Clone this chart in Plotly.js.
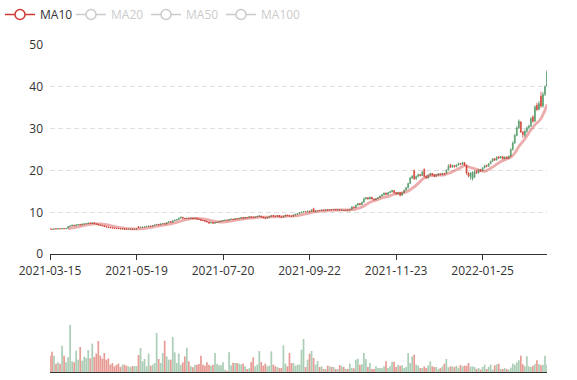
<!DOCTYPE html>
<html>
<head>
<meta charset="utf-8">
<script src="https://cdn.plot.ly/plotly-3.0.1.min.js"></script>
<style>html,body{margin:0;padding:0;background:#fff;}#chart{width:577px;height:380px;}</style>
</head>
<body>
<div id="chart"></div>
<script>
// Tick labels of the category (trading-day) axis and their category positions
const tickLabels = ['2021-03-15', '2021-05-19', '2021-07-20', '2021-09-22', '2021-11-23', '2022-01-25'];
const tickIndex = [0, 43, 86, 129, 172, 215];

// Daily candles
const open = [6.10,6.00,5.95,6.08,6.02,6.10,6.05,6.15,6.05,6.20,6.60,6.75,6.95,6.80,7.00,7.12,7.00,7.20,7.25,7.30,
7.45,7.35,7.50,7.30,7.20,7.00,6.90,6.80,6.60,6.50,6.40,6.30,6.25,6.18,6.15,6.10,6.05,6.10,6.00,5.95,
6.00,6.05,5.95,6.00,6.60,6.35,6.45,6.50,6.55,6.65,6.75,6.65,6.85,7.00,7.15,7.00,7.25,7.35,7.20,7.55,
7.80,7.65,8.00,8.15,8.30,8.60,8.85,8.60,8.50,8.60,8.55,8.65,8.50,8.60,8.40,8.30,8.10,8.05,7.85,7.70,
7.45,7.60,7.40,7.55,7.65,7.80,7.95,8.05,8.15,8.10,8.30,8.40,8.30,8.50,8.45,8.60,8.75,8.60,8.80,8.70,
8.95,8.85,8.80,8.90,9.05,9.10,8.90,8.70,8.60,8.80,9.00,9.25,9.10,9.00,9.25,8.95,8.85,9.05,9.35,9.20,
9.10,9.05,9.35,9.55,9.70,9.90,10.05,10.20,10.10,10.30,10.15,10.90,10.20,10.35,10.45,10.40,10.55,10.50,10.60,10.55,
10.65,10.60,10.70,10.55,10.60,10.50,10.55,10.45,10.55,10.50,10.70,11.30,11.10,11.70,12.10,11.85,12.40,13.20,13.50,13.20,
13.60,13.20,13.00,13.30,13.50,13.90,14.20,14.60,14.30,14.70,14.90,15.20,14.70,14.40,14.70,14.10,14.70,15.30,15.90,16.90,
18.20,20.00,18.00,18.60,19.00,18.80,20.30,18.60,18.20,18.90,19.30,19.00,18.60,18.90,19.20,19.00,19.30,19.30,20.10,21.40,
20.80,21.20,20.90,21.30,21.70,21.50,21.90,21.20,19.40,18.50,18.00,18.40,19.80,19.40,20.20,19.90,20.60,21.20,21.00,21.60,
22.20,22.80,22.50,23.20,23.00,23.30,22.80,23.20,22.90,23.40,25.00,26.60,28.40,30.20,31.60,29.20,28.40,29.40,30.20,30.60,
32.80,31.80,35.60,34.60,37.80,35.40,38.20,40.20];
const close = [6.00,5.95,6.05,6.02,6.08,6.05,6.12,6.08,6.15,6.60,6.75,6.95,6.80,7.00,7.10,7.00,7.20,7.25,7.30,7.42,
7.35,7.50,7.30,7.20,7.00,6.90,6.80,6.60,6.50,6.40,6.30,6.25,6.20,6.15,6.10,6.05,6.10,6.00,5.95,6.00,
6.05,5.95,6.00,6.10,6.35,6.45,6.50,6.55,6.65,6.75,6.65,6.85,7.00,7.15,7.00,7.25,7.35,7.20,7.55,7.75,
7.65,8.00,8.15,8.30,8.60,8.85,8.60,8.50,8.60,8.55,8.65,8.50,8.60,8.40,8.30,8.10,8.05,7.85,7.70,7.45,
7.60,7.40,7.55,7.65,7.80,7.95,8.05,8.15,8.10,8.30,8.40,8.30,8.50,8.45,8.60,8.75,8.60,8.80,8.70,8.95,
8.85,8.80,8.90,9.05,9.15,8.90,8.70,8.60,8.80,9.00,9.25,9.10,9.00,9.25,8.95,8.85,9.05,9.35,9.20,9.10,
9.05,9.35,9.55,9.70,9.90,10.05,10.20,10.10,10.30,10.15,10.60,10.20,10.35,10.45,10.40,10.55,10.50,10.60,10.55,10.65,
10.60,10.70,10.55,10.60,10.50,10.55,10.45,10.55,10.50,10.70,11.30,11.10,11.70,12.10,11.85,12.40,13.20,13.50,13.20,13.60,
13.20,13.00,13.30,13.50,13.90,14.20,14.60,14.30,14.70,14.90,15.20,14.70,14.40,14.70,14.10,14.70,15.30,15.90,16.90,18.20,
18.60,18.00,18.60,19.00,18.80,19.60,18.60,18.20,18.90,19.30,19.00,18.60,18.90,19.20,19.00,19.30,19.10,20.10,21.00,20.80,
21.20,20.90,21.30,21.70,21.50,21.90,21.30,19.40,18.70,19.40,19.60,19.80,19.40,20.20,19.90,20.60,21.20,21.00,21.60,22.20,
22.80,22.50,23.20,23.00,23.30,22.80,23.20,22.90,23.40,25.00,26.60,28.40,30.20,31.80,29.20,28.60,29.40,30.20,30.60,32.40,
31.80,35.20,34.60,36.00,35.40,38.20,40.00,43.60];
const low = [5.95,5.90,5.92,5.98,6.00,6.00,6.02,6.05,6.00,6.15,6.55,6.70,6.75,6.75,6.95,6.95,6.95,7.10,7.15,7.25,
7.30,7.30,7.25,7.10,6.95,6.85,6.70,6.55,6.45,6.35,6.25,6.20,6.15,6.10,6.05,6.00,6.00,5.95,5.90,5.90,
5.95,5.90,5.90,5.95,6.25,6.30,6.40,6.45,6.50,6.60,6.60,6.62,6.80,6.95,6.95,6.98,7.20,7.15,7.18,7.50,
7.60,7.62,7.95,8.10,8.25,8.55,8.55,8.45,8.45,8.48,8.50,8.45,8.45,8.35,8.25,8.05,7.95,7.80,7.60,7.30,
7.40,7.35,7.35,7.50,7.60,7.75,7.90,8.00,8.05,8.05,8.25,8.25,8.25,8.38,8.40,8.55,8.55,8.55,8.62,8.65,
8.78,8.72,8.75,8.85,9.00,8.85,8.62,8.40,8.55,8.75,8.95,9.05,8.95,8.95,8.90,8.70,8.80,9.00,9.15,9.05,
8.95,9.00,9.30,9.50,9.65,9.85,10.00,10.05,10.05,10.10,10.10,10.10,10.15,10.30,10.32,10.35,10.42,10.45,10.48,10.50,
10.52,10.55,10.50,10.48,10.45,10.42,10.40,10.40,10.42,10.45,10.65,11.00,11.05,11.65,11.75,11.80,12.35,13.10,13.10,13.15,
13.10,12.85,12.95,13.20,13.45,13.80,14.10,14.20,14.25,14.60,14.80,14.60,14.30,14.30,13.80,14.00,14.60,15.20,15.70,16.80,
18.00,17.80,17.80,18.40,18.60,18.70,18.40,18.00,18.10,18.80,18.80,18.40,18.50,18.80,18.90,18.90,19.00,19.20,20.00,20.60,
20.70,20.70,20.80,21.20,21.30,21.40,21.10,19.00,18.40,17.80,17.60,18.20,19.20,19.30,19.70,19.80,20.50,20.80,20.90,21.50,
22.00,22.30,22.40,22.80,22.90,22.70,22.70,22.80,22.80,23.30,24.80,26.40,28.20,30.00,29.00,27.80,28.00,29.00,29.80,30.40,
31.40,31.60,34.20,34.40,35.00,35.00,37.80,40.00];
const high = [6.15,6.05,6.10,6.12,6.12,6.15,6.18,6.20,6.20,6.70,6.85,7.05,7.00,7.10,7.20,7.20,7.30,7.35,7.40,7.55,
7.55,7.60,7.55,7.35,7.25,7.05,6.95,6.85,6.65,6.55,6.45,6.35,6.30,6.25,6.20,6.15,6.15,6.15,6.05,6.05,
6.10,6.10,6.05,6.15,6.70,6.55,6.60,6.62,6.72,6.82,6.80,6.92,7.08,7.22,7.20,7.32,7.45,7.40,7.62,7.85,
7.90,8.08,8.25,8.40,8.70,9.00,8.90,8.65,8.70,8.68,8.72,8.70,8.68,8.65,8.45,8.35,8.15,8.10,7.90,7.75,
7.65,7.65,7.60,7.72,7.88,8.02,8.12,8.25,8.22,8.40,8.50,8.45,8.60,8.58,8.70,8.85,8.80,8.90,8.85,9.05,
9.00,8.92,9.00,9.15,9.30,9.15,8.95,8.75,8.88,9.10,9.35,9.30,9.15,9.35,9.30,9.00,9.12,9.45,9.40,9.25,
9.15,9.45,9.65,9.80,10.00,10.15,10.30,10.28,10.40,10.38,10.70,11.10,10.45,10.55,10.52,10.65,10.62,10.70,10.68,10.75,
10.72,10.80,10.75,10.68,10.65,10.62,10.60,10.62,10.60,10.80,11.45,11.40,11.85,12.25,12.20,12.55,13.60,13.70,13.60,13.75,
13.70,13.30,13.40,13.65,14.05,14.35,14.80,14.70,14.85,15.10,15.40,15.30,14.80,14.85,14.80,14.85,15.45,16.10,17.10,18.50,
18.90,20.20,18.80,19.30,19.20,19.90,20.50,18.80,19.10,19.50,19.40,19.10,19.10,19.40,19.30,19.50,19.40,20.30,21.50,21.60,
21.40,21.30,21.50,21.90,21.80,22.10,22.00,21.40,19.60,19.60,19.80,20.00,20.00,20.40,20.40,20.80,21.40,21.40,21.80,22.40,
23.00,23.00,23.40,23.50,23.50,23.50,23.40,23.40,23.60,25.30,27.00,28.80,30.60,32.20,31.80,29.40,29.80,30.60,31.00,32.80,
33.20,35.60,36.20,36.60,38.80,38.80,40.40,44.00];

// Daily volume (relative units)
const volume = [49,61,49,25,29,25,79,49,29,44,142,32,29,64,37,75,34,46,42,66,
41,85,45,55,93,49,40,57,37,41,22,27,17,22,25,15,22,22,19,17,
15,18,18,18,51,72,32,39,17,55,19,22,27,117,39,27,57,94,47,37,
37,105,59,27,55,22,29,47,73,32,17,14,22,22,24,49,22,19,29,22,
19,22,57,24,20,20,29,7,4,59,20,28,27,27,25,23,25,17,9,11,
30,44,17,22,63,30,19,25,17,19,62,22,17,15,12,12,80,25,17,57,
27,27,19,22,22,67,99,15,37,55,63,42,22,33,15,17,9,9,19,17,
15,15,9,9,21,17,15,9,9,25,12,11,37,40,22,23,57,39,15,27,
9,9,17,12,12,11,17,32,12,17,31,31,15,22,19,20,12,15,57,27,
47,52,22,19,12,12,17,12,20,32,17,15,15,9,12,17,25,39,14,17,
17,15,19,13,21,17,19,19,27,16,17,15,9,12,7,15,22,9,15,22,
7,20,23,25,9,9,12,9,7,13,25,22,29,35,49,23,17,47,17,15,
19,24,35,24,20,22,49,22];

// Moving-average series shown in the legend (only MA10 is switched on)
const maNames = ['MA10', 'MA20', 'MA50', 'MA100'];
const maPeriods = [10, 20, 50, 100];

const idx = close.map((_, i) => i);

function movingAverage(n) {
  return close.map((_, i) => {
    if (i < n - 1) return null;
    let s = 0;
    for (let k = i - n + 1; k <= i; k++) s += close[k];
    return +(s / n).toFixed(3);
  });
}

const upColor = '#5a9e70';
const downColor = '#d6483c';
const upVol = 'rgba(90,158,112,0.5)';
const downVol = 'rgba(214,72,60,0.55)';
const maColor = '#cf3a36';
const offColor = '#999999';
const font = 'Open Sans, Noto Sans, sans-serif';

const traces = [
  {
    type: 'candlestick', x: idx, open: open, close: close, low: low, high: high,
    xaxis: 'x', yaxis: 'y', showlegend: false, hoverinfo: 'skip',
    whiskerwidth: 0,
    increasing: {line: {color: upColor, width: 0.8}, fillcolor: upColor},
    decreasing: {line: {color: downColor, width: 0.8}, fillcolor: downColor}
  },
  {
    type: 'scatter', mode: 'lines', x: idx, y: movingAverage(maPeriods[0]),
    xaxis: 'x', yaxis: 'y', showlegend: false, hoverinfo: 'skip', legendgroup: 'ma10',
    line: {color: maColor, width: 2.8, shape: 'spline', smoothing: 0.8}, opacity: 0.42
  },
  {
    type: 'scatter', mode: 'lines+markers', x: [null], y: [null], name: maNames[0], legend: 'legend', legendgroup: 'ma10',
    xaxis: 'x', yaxis: 'y', hoverinfo: 'skip',
    line: {color: maColor, width: 1.5},
    marker: {symbol: 'circle', size: 10, color: '#ffffff', line: {color: maColor, width: 1.5}}
  }
];

const layout = {
  width: 577, height: 380,
  margin: {l: 50, r: 30, t: 45, b: 8},
  paper_bgcolor: '#fff', plot_bgcolor: '#fff',
  font: {family: font, size: 12, color: '#333'},
  hovermode: false, dragmode: false,
  bargap: 0.15, boxgap: 0.4,
  xaxis: {
    domain: [0, 1], anchor: 'y', range: [0, 247], type: 'linear',
    tickmode: 'array', tickvals: tickIndex, ticktext: tickLabels,
    ticks: 'outside', ticklen: 5, tickcolor: '#333', tickwidth: 1,
    showline: true, linecolor: '#333', linewidth: 1,
    showgrid: false, zeroline: false,
    tickfont: {size: 12, color: '#333'},
    rangeslider: {visible: false}, fixedrange: true
  },
  yaxis: {
    domain: [0.3602, 1], anchor: 'x', range: [0, 50], dtick: 10, tick0: 0,
    showgrid: true, gridcolor: '#dedede', gridwidth: 1, griddash: '5px,3px',
    showline: false, zeroline: false, ticks: '', ticklabelstandoff: 6,
    tickfont: {size: 12, color: '#333'}, fixedrange: true
  },
  xaxis2: {
    domain: [0, 1], anchor: 'y2', range: [0, 247], type: 'linear',
    showticklabels: false, ticks: '', showgrid: false, zeroline: false,
    showline: true, linecolor: '#333', linewidth: 1, fixedrange: true
  },
  yaxis2: {
    domain: [0, 0.2446], anchor: 'x2', range: [0, 240],
    showgrid: false, zeroline: false, showticklabels: false, ticks: '', showline: false, fixedrange: true
  },
  legend: {
    orientation: 'h', xref: 'container', yref: 'container', x: 0, y: 1, xanchor: 'left', yanchor: 'top',
    font: {family: font, size: 12, color: '#333'}, bgcolor: 'rgba(0,0,0,0)', itemclick: false, itemdoubleclick: false
  }
};

// Switched-off series: each in its own legend box so the spacing matches
const legendLeft = [71, 146, 221];
for (let k = 1; k < maNames.length; k++) {
  const lg = 'legend' + (k + 1);
  traces.push({
    type: 'scatter', mode: 'lines+markers', x: idx, y: movingAverage(maPeriods[k]), name: maNames[k],
    visible: 'legendonly', legend: lg, xaxis: 'x', yaxis: 'y',
    line: {color: offColor, width: 1.5, shape: 'spline'},
    marker: {symbol: 'circle', size: 10, color: '#ffffff', line: {color: offColor, width: 1.5}}
  });
  layout[lg] = {
    orientation: 'h', xref: 'container', yref: 'container', x: legendLeft[k - 1] / 577, y: 1,
    xanchor: 'left', yanchor: 'top',
    font: {family: font, size: 12, color: offColor}, bgcolor: 'rgba(0,0,0,0)', itemclick: false, itemdoubleclick: false
  };
}

traces.push({
  type: 'bar', x: idx, y: volume, xaxis: 'x2', yaxis: 'y2', showlegend: false, hoverinfo: 'skip',
  marker: {color: close.map((c, i) => c >= open[i] ? upVol : downVol), line: {width: 0}}
});

Plotly.newPlot('chart', traces, layout, {displayModeBar: false, staticPlot: true});
</script>
</body>
</html>
